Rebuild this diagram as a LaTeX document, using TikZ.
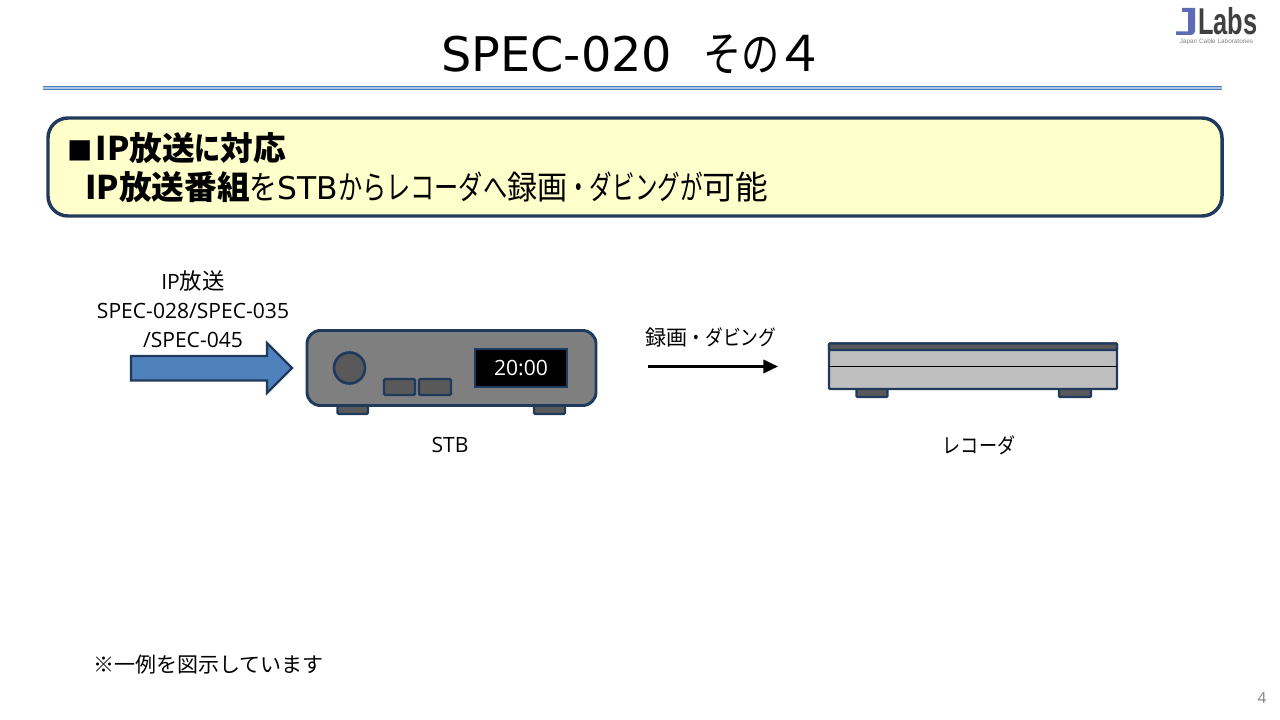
\documentclass[tikz,border=0pt]{standalone}
\usepackage{fontspec}
\usepackage{graphicx}
\setmainfont{Open Sans}
\newfontfamily\jp{Noto Sans CJK JP}
\newfontfamily\dv{DejaVu Sans}
\newfontfamily\logofont{Liberation Sans}
\newcommand{\KK}[2]{\scalebox{#1}[1]{\jp #2}}
\usetikzlibrary{arrows.meta}
\definecolor{navy}{HTML}{1F3A5C}
\definecolor{rulea}{HTML}{4F81BD}
\definecolor{ruleb}{HTML}{A9C4E4}
\definecolor{boxfill}{HTML}{FFFFCC}
\definecolor{body}{HTML}{7F7F7F}
\definecolor{darkp}{HTML}{595959}
\definecolor{silver}{HTML}{BFBFBF}
\definecolor{blockblue}{HTML}{4F81BD}
\definecolor{logoblue}{HTML}{5B6BB5}
\definecolor{logogrey}{HTML}{404040}
\tikzset{
  px/.style={x=0.75pt,y=-0.75pt},
  lbl/.style={inner sep=0pt,font=\fontsize{15.8}{21.75}\selectfont,text=black,align=center},
  part/.style={draw=navy,line width=1.8pt,rounded corners=1pt},
  partthin/.style={draw=navy,line width=1.8pt,rounded corners=0.8pt},
  big/.style={inner sep=0pt,anchor=base west,font=\fontsize{24.5}{28}\selectfont}
}
\begin{document}
\begin{tikzpicture}[px]
\useasboundingbox (0,0) rectangle (1280,720);
\node[inner sep=0pt,anchor=base west,font=\dv\fontsize{35.8}{42}\selectfont] (title) at (441,72) {SPEC-020\hspace{0.66em}\KK{0.8}{その}\hspace{-0.1em}{\jp\fontsize{37}{42}\selectfont ４}};
\fill[rulea] (43,86) rectangle (1222,90);
\fill[ruleb] (43,87.2) rectangle (1222,88.8);
% logo
\fill[logoblue] (1182,8) -- (1195,8) -- (1195,30) .. controls (1195,34) and (1193,35) .. (1189,35) -- (1176,35) -- (1176,31.5) -- (1188,31.5) -- (1188,12) -- (1182,12) -- cycle;
\node[inner sep=0pt,font=\logofont\bfseries\fontsize{28}{28}\selectfont,text=logogrey,xscale=0.68,anchor=base west] (logo) at (1198,35) {Labs};
\node[inner sep=0pt,font=\logofont\fontsize{4.8}{5}\selectfont,text=gray] (logosub) at (1216.5,42) {Japan Cable Laboratories};
% callout
\draw[navy,fill=boxfill,line width=2.6pt,rounded corners=15pt] (48,118) rectangle (1222,216);
\node[big] (l1) at (67,161) {\textbf{\jp\fontsize{19}{24}\selectfont ■\hspace{0.12em}\fontsize{24.5}{28}\selectfont IP放送\KK{0.8}{\bfseries に}対応}};
\node[big] (l2) at (85,200) {\textbf{\jp IP放送番組}\KK{0.85}{を}{\dv\fontsize{23.5}{28}\selectfont STB}\KK{0.74}{からレコーダへ}\KK{0.92}{録画}\KK{0.69}{・ダビングが}{\jp 可能}};
% input
\node[lbl] (ip) at (193,309) {IP{\jp\fontsize{16.8}{21.75}\selectfont 放送}\\SPEC-028/SPEC-035\\/SPEC-045};
\draw[navy,fill=blockblue,line width=1.6pt] (131,356) -- (267,356) -- (267,343) -- (292,368) -- (267,393) -- (267,380.5) -- (131,380.5) -- cycle;
% STB
\draw[part,fill=darkp] (337.5,404) rectangle (368,414);
\draw[part,fill=darkp] (534,404) rectangle (565,414);
\draw[navy,fill=body,line width=2.2pt,rounded corners=10pt] (307,330.5) rectangle (596,405.5);
\draw[navy,fill=darkp,line width=2pt] (349.5,368) circle (15.5);
\draw[part,fill=darkp] (384,379) rectangle (415,395);
\draw[part,fill=darkp] (419,379) rectangle (451,395);
\draw[navy,fill=black,line width=2pt] (475,349) rectangle (567,387);
\node[inner sep=0pt,text=white,font=\fontsize{15.8}{19}\selectfont] (clock) at (521,368) {20:00};
\node[lbl] (stb) at (450,445) {STB};
% transfer arrow
\node[lbl] (dub) at (711,337) {{\jp 録画}\KK{0.84}{・ダビング}};
\coordinate (a1) at (648,366.5);
\coordinate (a2) at (778,366.5);
\draw[black,line width=2pt,-{Triangle[length=11pt,width=10pt]}] (a1) -- (a2);
% recorder
\draw[partthin,fill=darkp] (856.5,388) rectangle (887.5,397);
\draw[partthin,fill=darkp] (1059,388) rectangle (1091,397);
\draw[partthin,fill=silver] (829,343.5) rectangle (1117,389);
\draw[partthin,fill=darkp] (829,343.5) rectangle (1117,350);
\coordinate (r1) at (829,366.5);
\coordinate (r2) at (1117,366.5);
\draw[black,line width=0.7pt] (r1) -- (r2);
\node[lbl] (rec) at (979,445) {\KK{0.86}{レコーダ}};
% footer
\node[inner sep=0pt,anchor=west,font=\jp\fontsize{15.75}{19}\selectfont] (note) at (93,665) {※一例を図示しています};
\node[inner sep=0pt,text=gray,font=\fontsize{11.5}{14}\selectfont] (page) at (1262,698) {4};
\end{tikzpicture}
\end{document}
